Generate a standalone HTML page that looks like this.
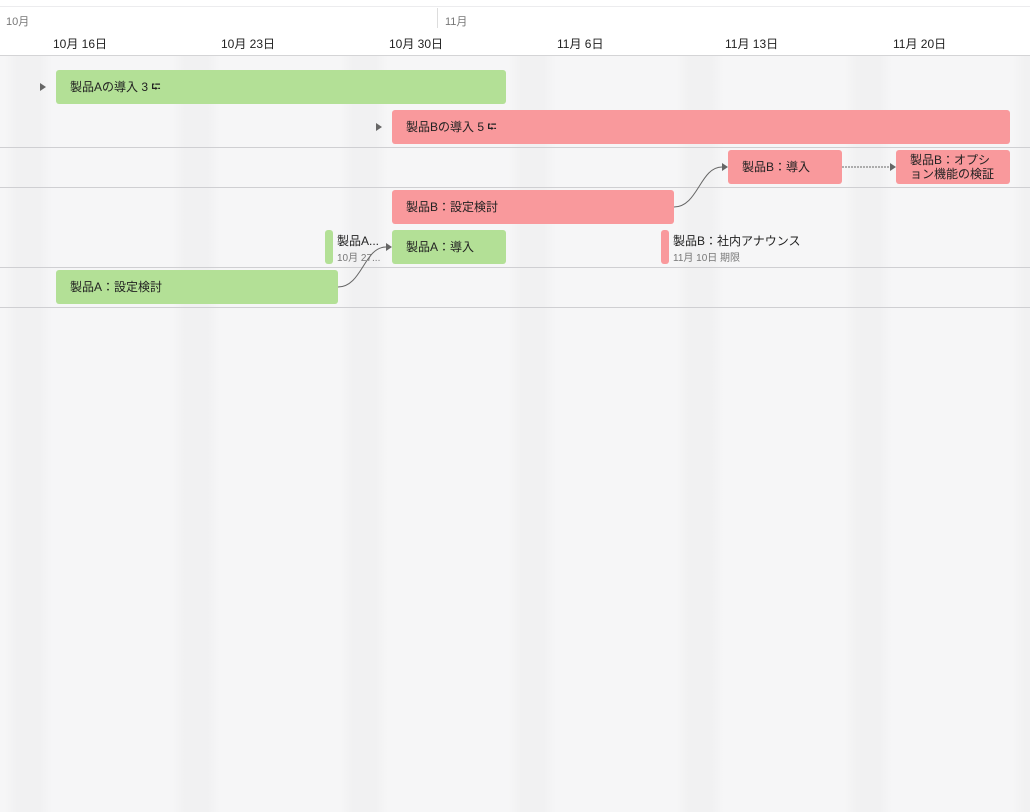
<!DOCTYPE html>
<html><head><meta charset="utf-8"><style>
body{margin:0;width:1030px;height:812px;overflow:hidden;background:#f6f6f7;font-family:"Liberation Sans","Noto Sans CJK JP",sans-serif;position:relative}
.a{position:absolute}
.hdr{left:0;top:0;width:1030px;height:55px;background:#fff;border-bottom:1px solid #d4d4d6}
.wk{top:56px;height:756px;width:48px;background:linear-gradient(90deg,rgba(0,0,0,0) 0%,rgba(0,0,0,.02) 25%,rgba(0,0,0,.02) 75%,rgba(0,0,0,0) 100%)}
.ln{left:0;width:1030px;height:1px;background:#cfcfd2}
.bar{height:34px;border-radius:3px;font-size:12px;color:#222;line-height:34px;padding-left:14px;box-sizing:border-box;white-space:nowrap;overflow:hidden}
.g{background:#b3e096}.r{background:#f9999c}
.day{top:35px;font-size:12px;color:#222}
.tri{width:0;height:0;border-left:6px solid #666;border-top:4px solid transparent;border-bottom:4px solid transparent}
.ms{width:8px;height:34px;border-radius:3px}
.t1{font-size:12px;color:#222}.t2{font-size:10px;color:#777}
</style></head><body>
<div class="a hdr"></div>
<div class="a" style="left:0;top:6px;width:1030px;height:1px;background:#ececee"></div>
<div class="a" style="left:437px;top:8px;width:1px;height:20px;background:#ddd"></div>
<div class="a" style="left:6px;top:13px;font-size:11px;color:#777">10月</div>
<div class="a" style="left:445px;top:13px;font-size:11px;color:#777">11月</div>
<div class="a day" style="left:53px">10月 16日</div>
<div class="a day" style="left:221px">10月 23日</div>
<div class="a day" style="left:389px">10月 30日</div>
<div class="a day" style="left:557px">11月 6日</div>
<div class="a day" style="left:725px">11月 13日</div>
<div class="a day" style="left:893px">11月 20日</div>
<div class="a wk" style="left:4px"></div>
<div class="a wk" style="left:172px"></div>
<div class="a wk" style="left:340px"></div>
<div class="a wk" style="left:508px"></div>
<div class="a wk" style="left:676px"></div>
<div class="a wk" style="left:844px"></div>
<div class="a wk" style="left:1012px"></div>
<div class="a ln" style="top:147px"></div>
<div class="a ln" style="top:187px"></div>
<div class="a ln" style="top:267px"></div>
<div class="a ln" style="top:307px"></div>
<div class="a tri" style="left:40px;top:83px"></div>
<div class="a bar g" style="left:56px;top:70px;width:450px">製品Aの導入 3 ⮓</div>
<div class="a tri" style="left:376px;top:123px"></div>
<div class="a bar r" style="left:392px;top:110px;width:618px">製品Bの導入 5 ⮓</div>
<div class="a bar r" style="left:728px;top:150px;width:114px">製品B：導入</div>
<div class="a bar r" style="left:896px;top:150px;width:114px;line-height:14px;padding-top:3px">製品B：オプシ<br>ョン機能の検証</div>
<div class="a bar r" style="left:392px;top:190px;width:282px">製品B：設定検討</div>
<div class="a ms g" style="left:325px;top:230px"></div>
<div class="a" style="left:337px;top:232px"><div class="t1">製品A...</div><div class="t2">10月 27...</div></div>
<div class="a bar g" style="left:392px;top:230px;width:114px">製品A：導入</div>
<div class="a ms r" style="left:661px;top:230px"></div>
<div class="a" style="left:673px;top:232px"><div class="t1">製品B：社内アナウンス</div><div class="t2">11月 10日 期限</div></div>
<div class="a bar g" style="left:56px;top:270px;width:282px">製品A：設定検討</div>
<svg class="a" style="left:0;top:0" width="1030" height="812">
<g fill="none" stroke="#666" stroke-width="1">
<path d="M338 287 C362 287 364 247 386 247"/>
<path d="M674 207 C698 207 700 167 722 167"/>
<path d="M842 167 L890 167" stroke-dasharray="2 1"/>
</g>
<g fill="#666"><path d="M392 247 l-6 -4 v8z"/><path d="M728 167 l-6 -4 v8z"/><path d="M896 167 l-6 -4 v8z"/></g>
</svg>
</body></html>
